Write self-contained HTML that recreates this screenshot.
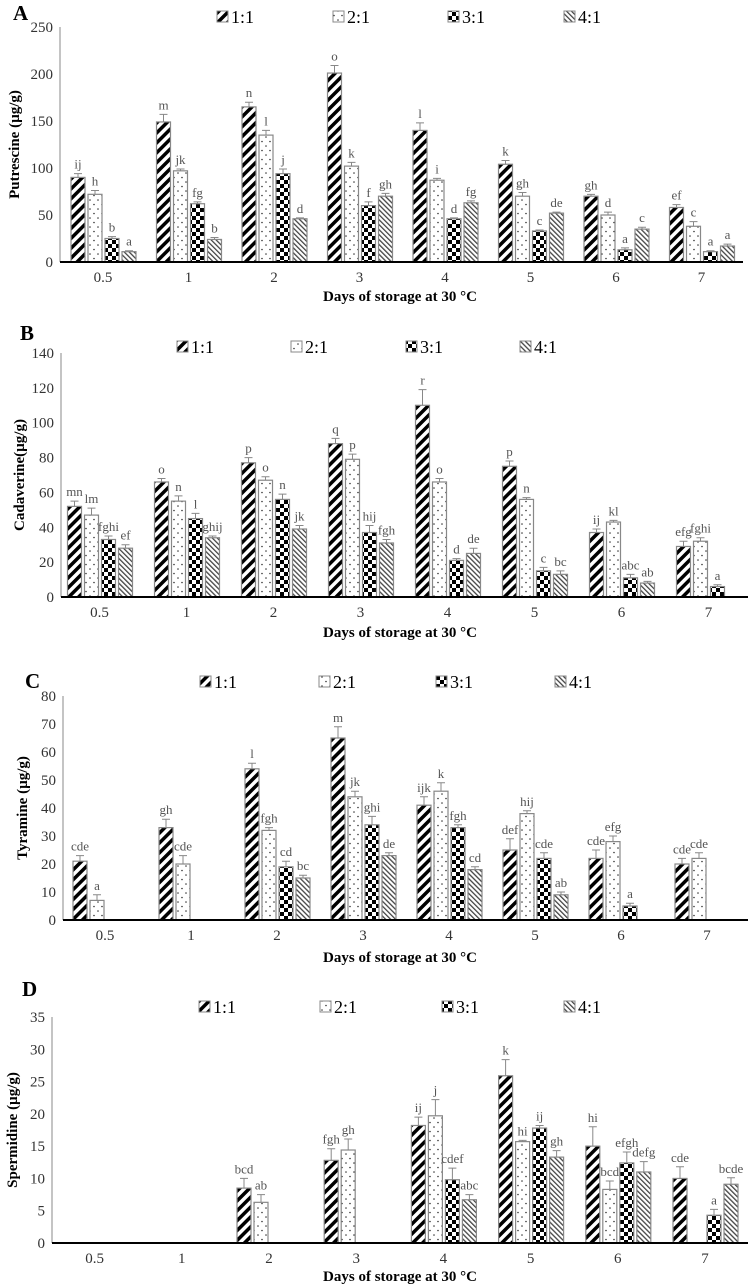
<!DOCTYPE html>
<html><head><meta charset="utf-8"><style>
body{margin:0;background:#fff}
svg{display:block;font-family:"Liberation Serif",serif}
text{font-family:"Liberation Serif",serif}
</style></head><body>
<svg id="fig" width="750" height="1287" viewBox="0 0 750 1287" xmlns="http://www.w3.org/2000/svg" font-family="Liberation Serif, serif">
<defs>
<pattern id="p11" patternUnits="userSpaceOnUse" width="7" height="7" patternTransform="rotate(45)"><rect width="7" height="7" fill="#fff"/><rect width="3.5" height="7" fill="#000"/></pattern>
<pattern id="p21" patternUnits="userSpaceOnUse" width="8" height="9"><rect width="8" height="9" fill="#fff"/><circle cx="2" cy="2" r="0.8" fill="#333"/><circle cx="6" cy="6.5" r="0.8" fill="#333"/></pattern>
<pattern id="p31" patternUnits="userSpaceOnUse" width="8" height="8"><rect width="8" height="8" fill="#fff"/><rect width="4" height="4" fill="#000"/><rect x="4" y="4" width="4" height="4" fill="#000"/></pattern>
<pattern id="p41" patternUnits="userSpaceOnUse" width="3.5" height="3.5" patternTransform="rotate(-45)"><rect width="3.5" height="3.5" fill="#fff"/><rect width="1.3" height="3.5" fill="#444"/></pattern>
</defs>
</svg>
<script>
const seriesNames=["1:1","2:1","3:1","4:1"];
const categories=["0.5","1","2","3","4","5","6","7"];
// Panel A Putrescine
const aVals=[[90,149,165,201,140,104,70,58],[72,97,135,102,87,70,50,38],[25,62,94,60,46,33,13,11],[11,24,46,70,63,52,35,17]];
const aErr=[[4,8,5,8,8,4,2,3],[4,2,5,4,2,4,3,5],[2,2,5,4,1,1,2,1],[1,2,1,3,2,1,2,2]];
const aLet=[["ij","m","n","o","l","k","gh","ef"],["h","jk","l","k","i","gh","d","c"],["b","fg","j","f","d","c","a","a"],["a","b","d","gh","fg","de","c","a"]];
const aTicks=[0,50,100,150,200,250];
// Panel B Cadaverine
const bVals=[[52,66,77,88,110,75,37,29],[47,55,67,79,66,56,43,32],[33,45,56,37,21,15,11,6],[28,34,39,31,25,13,8,null]];
const bErr=[[3,2,3,3,9,3,2,3],[4,3,2,3,2,1,1,2],[2,3,3,4,1,2,2,1],[2,1,2,2,3,2,1,0]];
const bLet=[["mn","o","p","q","r","p","ij","efg"],["lm","n","o","p","o","n","kl","fghi"],["fghi","l","n","hij","d","c","abc","a"],["ef","ghij","jk","fgh","de","bc","ab",""]];
const bTicks=[0,20,40,60,80,100,120,140];
// Panel C Tyramine
const cVals=[[21,33,54,65,41,25,22,20],[7,20,32,44,46,38,28,22],[null,null,19,34,33,22,5,null],[null,null,15,23,18,9,null,null]];
const cErr=[[2,3,2,4,3,4,3,2],[2,3,1,2,3,1,2,2],[0,0,2,3,1,2,1,0],[0,0,1,1,1,1,0,0]];
const cLet=[["cde","gh","l","m","ijk","def","cde","cde"],["a","cde","fgh","jk","k","hij","efg","cde"],["","","cd","ghi","fgh","cde","a",""],["","","bc","de","cd","ab","",""]];
const cTicks=[0,10,20,30,40,50,60,70,80];
// Panel D Spermidine
const dVals=[[null,null,8.5,12.8,18.2,25.9,15,10],[null,null,6.3,14.4,19.7,15.7,8.3,null],[null,null,null,null,9.8,17.8,12.4,4.3],[null,null,null,null,6.7,13.3,11,9.1]];
const dErr=[[0,0,1.5,1.8,1.3,2.5,3,1.8],[0,0,1.2,1.7,2.5,0.2,1.3,0],[0,0,0,0,1.8,0.4,1.7,0.9],[0,0,0,0,0.8,1,1.6,1]];
const dLet=[["","","bcd","fgh","ij","k","hi","cde"],["","","ab","gh","j","hi","bcd",""],["","","","","cdef","ij","efgh","a"],["","","","","abc","gh","defg","bcde"]];
const dTicks=[0,5,10,15,20,25,30,35];

const NS="http://www.w3.org/2000/svg";
const svg=document.getElementById('fig');
const pats=["url(#p11)","url(#p21)","url(#p31)","url(#p41)"];
function mk(tag,attrs,parent){const e=document.createElementNS(NS,tag);for(const k in attrs)e.setAttribute(k,attrs[k]);(parent||svg).appendChild(e);return e;}
function txt(s,attrs,parent){attrs['font-family']='Liberation Serif, serif';const e=mk('text',attrs,parent);e.textContent=s;return e;}

function panel(cfg){
  const g=mk('g',{});
  
  
  const ymax=cfg.ticks[cfg.ticks.length-1];
  const y=v=>cfg.y0-(v/ymax)*(cfg.y0-cfg.yTop);
  const xc=i=>cfg.c0+i*cfg.step;
  const L=txt(cfg.letter,{x:cfg.lx,y:cfg.ly,'font-size':21,'font-weight':'bold',fill:'#000'},g);
  
  
  const ya=mk('line',{x1:cfg.ax,y1:cfg.yTop,x2:cfg.ax,y2:cfg.y0,stroke:'#888','stroke-width':1},g);
  
  
  cfg.ticks.forEach(t=>{
    const e=txt(String(t),{x:cfg.ax-7,y:y(t)+5,'font-size':15,'text-anchor':'end',fill:'#333'},g);
    
    
  });
  const yt=txt(cfg.ytitle,{x:cfg.ytx,y:(cfg.yTop+cfg.y0)/2,'font-size':15,'font-weight':'bold','text-anchor':'middle',fill:'#000',transform:`rotate(-90 ${cfg.ytx} ${(cfg.yTop+cfg.y0)/2})`,dy:5},g);
  
  
  seriesNames.forEach((s,i)=>{
    const lg=mk('g',{},g);
    
    
    mk('rect',{x:cfg.legX[i],y:cfg.legY-6,width:11,height:11,fill:pats[i],stroke:'#888','stroke-width':1},lg);
    txt(s,{x:cfg.legX[i]+14,y:cfg.legY+6,'font-size':18,fill:'#000'},lg);
  });
  cfg.vals.forEach((arr,si)=>{
    arr.forEach((v,ci)=>{
      if(v===null||v===undefined)return;
      const bx=xc(ci)-32+si*17;
      const r=mk('rect',{x:bx,y:y(v),width:14,height:cfg.y0-y(v),fill:pats[si],stroke:'#888','stroke-width':1.2},g);
      
      
      const e=cfg.err[si][ci];
      const top=y(v+e);
      const cx=bx+7;
      if(e>0){
        const eb=mk('path',{d:`M${cx} ${y(v)}V${top}M${cx-4} ${top}H${cx+4}`,stroke:'#888','stroke-width':1,fill:'none'},g);
        
        
      }
      const lt=cfg.lets[si][ci];
      if(lt){
        const t=txt(lt,{x:cx,y:top-5,'font-size':13,'text-anchor':'middle',fill:'#555'},g);
        
        
      }
    });
  });
  const xa=mk('line',{x1:cfg.ax,y1:cfg.y0,x2:cfg.axEnd,y2:cfg.y0,stroke:'#000','stroke-width':2},g);
  
  
  categories.forEach((c,i)=>{
    const e=txt(c,{x:xc(i),y:cfg.y0+20,'font-size':15,'text-anchor':'middle',fill:'#333'},g);
    
    
  });
  const xt=txt('Days of storage at 30 °C',{x:cfg.xtx,y:cfg.xty,'font-size':15,'font-weight':'bold','text-anchor':'middle',fill:'#000'},g);
  
  
}

panel({name:'panel-a-putrescine',letter:'A',lx:13,ly:20,ax:60,axEnd:743,yTop:27,y0:262,ticks:aTicks,ytitle:'Putrescine (µg/g)',ytx:14,
  c0:103,step:85.5,vals:aVals,err:aErr,lets:aLet,legY:17,legX:[217,333,448,564],xtx:400,xty:301});
panel({name:'panel-b-cadaverine',letter:'B',lx:20,ly:340,ax:61,axEnd:748,yTop:353,y0:597,ticks:bTicks,ytitle:'Cadaverine(µg/g)',ytx:19,
  c0:99.5,step:87,vals:bVals,err:bErr,lets:bLet,legY:347,legX:[177,291,406,520],xtx:400,xty:637});
panel({name:'panel-c-tyramine',letter:'C',lx:25,ly:688,ax:63,axEnd:748,yTop:696,y0:920,ticks:cTicks,ytitle:'Tyramine (µg/g)',ytx:22,
  c0:105,step:86,vals:cVals,err:cErr,lets:cLet,legY:682,legX:[200,319,436,555],xtx:400,xty:962});
panel({name:'panel-d-spermidine',letter:'D',lx:22,ly:996,ax:52,axEnd:748,yTop:1017,y0:1243,ticks:dTicks,ytitle:'Spermidine (µg/g)',ytx:12,
  c0:94.6,step:87.2,vals:dVals,err:dErr,lets:dLet,legY:1007,legX:[199,320,442,564],xtx:400,xty:1281});
</script>
</body></html>
